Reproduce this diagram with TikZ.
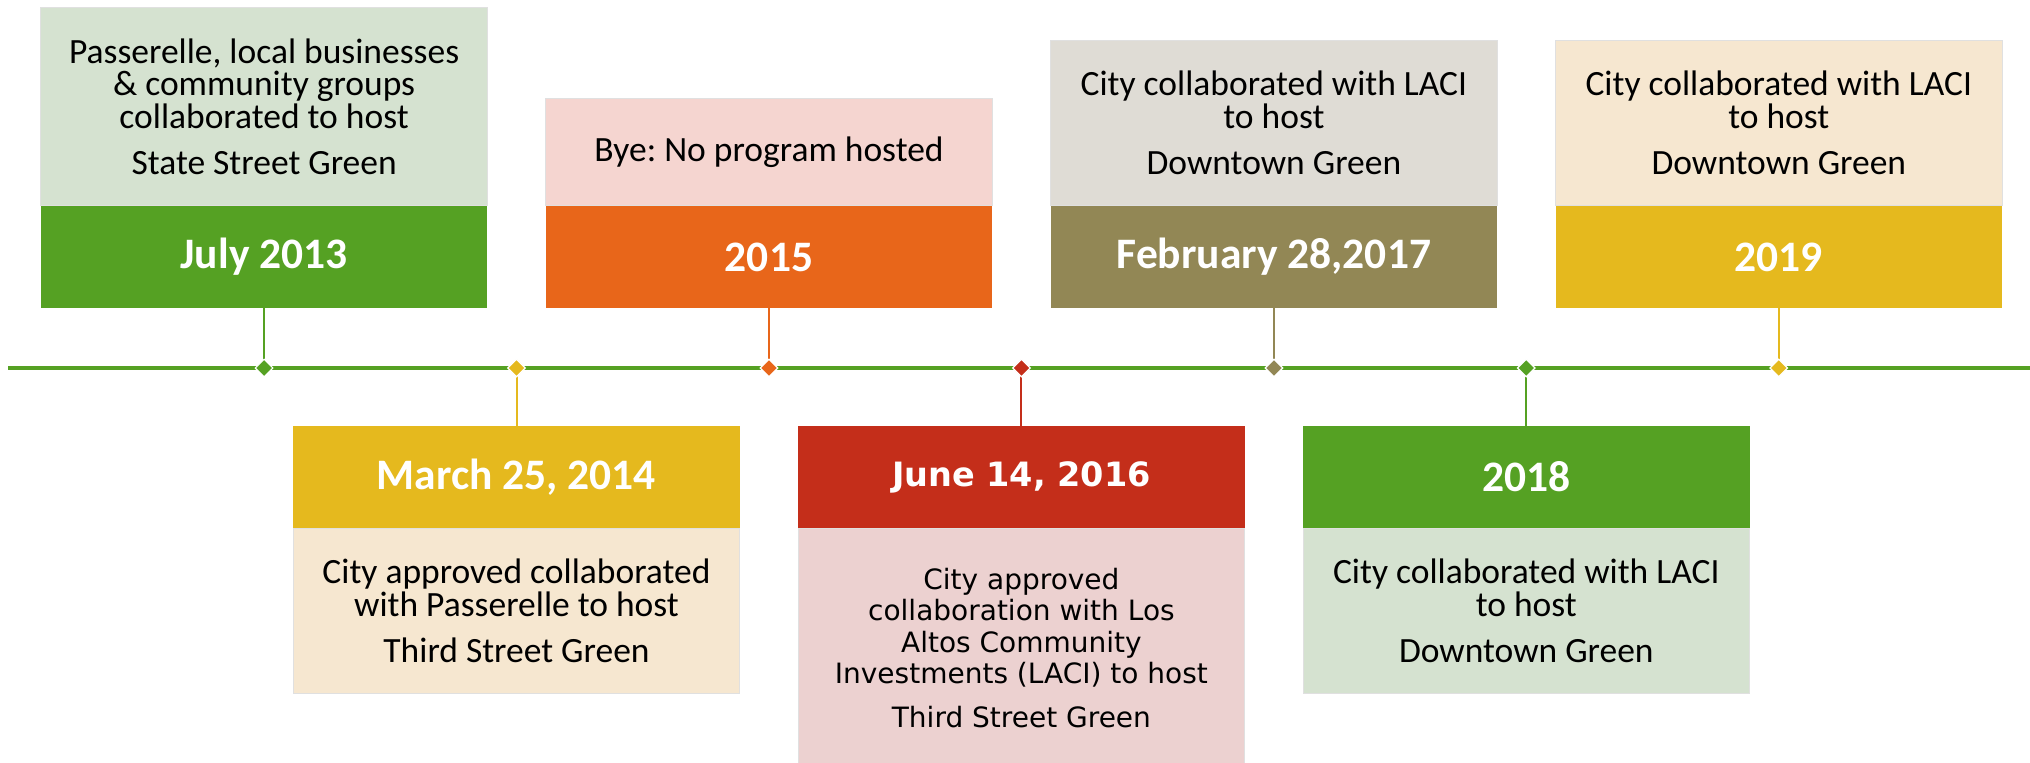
\documentclass[tikz,border=0pt]{standalone}
\usepackage{fontspec}
\setmainfont{Carlito}
\newfontfamily\tahf{DejaVu Sans}
\usetikzlibrary{shapes.geometric}
\frenchspacing
\definecolor{cgreen}{RGB}{85,161,35}
\definecolor{lgreen}{RGB}{213,226,208}
\definecolor{cyellow}{RGB}{229,185,30}
\definecolor{lyellow}{RGB}{246,231,208}
\definecolor{corange}{RGB}{232,102,26}
\definecolor{lorange}{RGB}{245,213,208}
\definecolor{cred}{RGB}{196,46,26}
\definecolor{lred}{RGB}{236,209,208}
\definecolor{colive}{RGB}{146,135,85}
\definecolor{lolive}{RGB}{223,220,213}
\tikzset{
  hdr/.style={rectangle, minimum width=446.6pt, inner sep=0pt, text=white,
    font=\fontsize{43.5}{44}\selectfont\bfseries},
  bodybox/.style={rectangle, minimum width=446.6pt, inner sep=0pt, text=black, align=center,
    draw=black!12, line width=0.8pt,
    font=\fontsize{35.5}{32.4}\selectfont},
  tahhdr/.style={hdr, font=\tahf\fontsize{33.5}{34}\selectfont\bfseries},
  tahbody/.style={bodybox, font=\tahf\fontsize{28}{31.3}\selectfont},
  dmark/.style={diamond, inner sep=0pt, minimum width=18pt, minimum height=18pt, draw=white, line width=1.2pt},
  conn/.style={line width=2pt},
  tline/.style={line width=4.5pt, cgreen}
}
\begin{document}
\begin{tikzpicture}[x=1pt,y=-1pt]
\useasboundingbox[fill=white] (0,0) rectangle (2030,763);
% timeline
\coordinate (tl) at (8,368);
\coordinate (tr) at (2030,368);
\draw[tline] (tl) -- (tr);

% ---- box 1: July 2013 (upper)
\node[bodybox, fill=lgreen, minimum height=198pt] (b1) at (264.1,106.8)
  {Passerelle, local businesses\\ \& community groups\\ collaborated to host\\[14pt] State Street Green};
\node[hdr, fill=cgreen, minimum height=102.3pt] (h1) at (264.1,257) {July 2013};

% ---- box 3: 2015 (upper)
\node[bodybox, fill=lorange, minimum height=107.4pt] (b3) at (769,152.1)
  {Bye: No program hosted};
\node[hdr, fill=corange, minimum height=102.3pt] (h3) at (769,257) {2015};

% ---- box 5: February 28,2017 (upper)
\node[bodybox, fill=lolive, minimum height=165.7pt] (b5) at (1273.9,123)
  {City collaborated with LACI\\ to host\\[14pt] Downtown Green};
\node[hdr, fill=colive, minimum height=102.3pt] (h5) at (1273.9,257) {February 28,2017};

% ---- box 7: 2019 (upper)
\node[bodybox, fill=lyellow, minimum height=165.7pt] (b7) at (1778.8,123)
  {City collaborated with LACI\\ to host\\[14pt] Downtown Green};
\node[hdr, fill=cyellow, minimum height=102.3pt] (h7) at (1778.8,257) {2019};

% ---- box 2: March 25, 2014 (lower)
\node[hdr, fill=cyellow, minimum height=102.3pt] (h2) at (516.5,477) {March 25, 2014};
\node[bodybox, fill=lyellow, minimum height=165.7pt] (b2) at (516.5,611)
  {City approved collaborated\\ with Passerelle to host\\[14pt] Third Street Green};

% ---- box 4: June 14, 2016 (lower)
\node[tahhdr, fill=cred, minimum height=102.3pt] (h4) at (1021.4,477) {June 14, 2016};
\node[tahbody, fill=lred, minimum height=240pt] (b4) at (1021.4,648.2)
  {City approved\\ collaboration with Los\\ Altos Community\\ Investments (LACI) to host\\[13pt] Third Street Green};

% ---- box 6: 2018 (lower)
\node[hdr, fill=cgreen, minimum height=102.3pt] (h6) at (1526.3,477) {2018};
\node[bodybox, fill=lgreen, minimum height=165.7pt] (b6) at (1526.3,611)
  {City collaborated with LACI\\ to host\\[14pt] Downtown Green};

% ---- markers on timeline
\coordinate (p1) at (264.1,368);
\coordinate (p2) at (516.5,368);
\coordinate (p3) at (769,368);
\coordinate (p4) at (1021.4,368);
\coordinate (p5) at (1273.9,368);
\coordinate (p6) at (1526.3,368);
\coordinate (p7) at (1778.8,368);

\draw[conn, cgreen] (h1.south) -- (p1);
\draw[conn, cyellow] (p2) -- (h2.north);
\draw[conn, corange] (h3.south) -- (p3);
\draw[conn, cred] (p4) -- (h4.north);
\draw[conn, colive] (h5.south) -- (p5);
\draw[conn, cgreen] (p6) -- (h6.north);
\draw[conn, cyellow] (h7.south) -- (p7);

\node[dmark, fill=cgreen] (m1) at (p1) {};
\node[dmark, fill=cyellow] (m2) at (p2) {};
\node[dmark, fill=corange] (m3) at (p3) {};
\node[dmark, fill=cred] (m4) at (p4) {};
\node[dmark, fill=colive] (m5) at (p5) {};
\node[dmark, fill=cgreen] (m6) at (p6) {};
\node[dmark, fill=cyellow] (m7) at (p7) {};
\end{tikzpicture}
\end{document}
